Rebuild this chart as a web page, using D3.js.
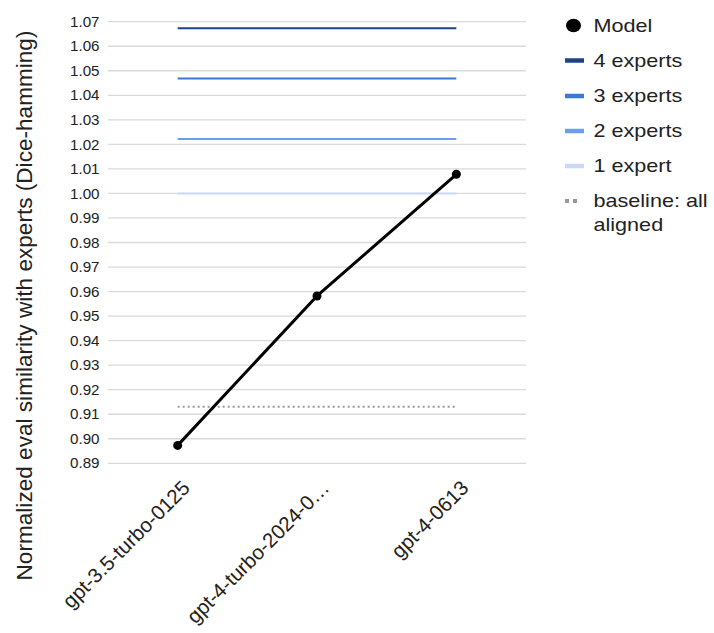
<!DOCTYPE html>
<html>
<head>
<meta charset="utf-8">
<script src="https://cdn.jsdelivr.net/npm/d3@7"></script>
<style>
  html, body { margin: 0; padding: 0; background: #fff; }
  svg { display: block; font-family: Arial, "Liberation Sans", sans-serif; }
</style>
</head>
<body>
<svg id="chart" width="714" height="633"></svg>
<script>
const categories = ["gpt-3.5-turbo-0125", "gpt-4-turbo-2024-0…", "gpt-4-0613"];
const modelValues = [0.8973, 0.9582, 1.0078];
const experts4 = [1.0673, 1.0673, 1.0673];
const experts3 = [1.0468, 1.0468, 1.0468];
const experts2 = [1.0222, 1.0222, 1.0222];
const experts1 = [1.0000, 1.0000, 1.0000];
const baseline = [0.9131, 0.9131, 0.9131];
const yTicks = [0.89, 0.90, 0.91, 0.92, 0.93, 0.94, 0.95, 0.96, 0.97, 0.98, 0.99, 1.00, 1.01, 1.02, 1.03, 1.04, 1.05, 1.06, 1.07];
const legendLabels = ["Model", "4 experts", "3 experts", "2 experts", "1 expert", ["baseline: all", "aligned"]];
const yTitle = "Normalized eval similarity with experts (Dice-hamming)";

const svg = d3.select("#chart");
const plotLeft = 108, plotRight = 526, plotTop = 21.7, plotBottom = 463.3;
const SX = 1.2; // horizontal glyph stretch seen in the reference legend
const textColor = "#222";
const fontFam = "Arial, 'Liberation Sans', sans-serif";

const x = d3.scalePoint().domain(categories).range([plotLeft, plotRight]).padding(0.5);
const y = d3.scaleLinear().domain([0.89, 1.07]).range([plotBottom, plotTop]);

// gridlines
svg.append("g")
  .selectAll("line").data(yTicks).join("line")
  .attr("x1", plotLeft).attr("x2", plotRight)
  .attr("y1", d => y(d)).attr("y2", d => y(d))
  .attr("stroke", "#dadada").attr("stroke-width", 1.3);

// y axis labels
const yAxis = d3.axisLeft(y).tickValues(yTicks).tickFormat(d3.format(".2f")).tickSize(0).tickPadding(0);
const yg = svg.append("g").attr("transform", `translate(${plotLeft - 8.5},0)`).call(yAxis);
yg.select(".domain").remove();
yg.selectAll("text")
  .attr("x", 0)
  .attr("font-size", 14.6).attr("fill", textColor).attr("font-family", fontFam)
  .attr("transform", `scale(1.04,1)`);

// x axis labels
const xAxis = d3.axisBottom(x).tickSize(0).tickPadding(0);
const xg = svg.append("g").attr("transform", `translate(0,${plotBottom})`).call(xAxis);
xg.select(".domain").remove();
xg.selectAll("text")
  .attr("x", 0).attr("y", 0).attr("dy", 0)
  .attr("font-size", 20.5).attr("fill", textColor)
  .attr("font-family", fontFam)
  .attr("text-anchor", "end")
  .attr("transform", `translate(13,26) rotate(-45)`);

// y title
svg.append("text")
  .attr("transform", `translate(24.5,305.5) rotate(-90)`)
  .attr("text-anchor", "middle")
  .attr("dy", "0.35em")
  .attr("font-size", 22.6).attr("fill", textColor)
  .text(yTitle);

const series = [
  { values: baseline, color: "#999999", width: 2, dash: "2,3" },
  { values: experts1, color: "#c9daf8", width: 2 },
  { values: experts2, color: "#6d9eeb", width: 2 },
  { values: experts3, color: "#3c78d8", width: 2 },
  { values: experts4, color: "#1c4587", width: 2 },
];
const line = d3.line().x((d, i) => x(categories[i])).y(d => y(d));
series.forEach(s => {
  svg.append("path").datum(s.values)
    .attr("d", line).attr("fill", "none")
    .attr("stroke", s.color).attr("stroke-width", s.width)
    .attr("stroke-dasharray", s.dash || null);
});

svg.append("path").datum(modelValues)
  .attr("d", line).attr("fill", "none")
  .attr("stroke", "#000").attr("stroke-width", 3).attr("stroke-linejoin", "round");
svg.append("g").selectAll("circle").data(modelValues).join("circle")
  .attr("cx", (d, i) => x(categories[i])).attr("cy", d => y(d)).attr("r", 4.5).attr("fill", "#000");

// legend
const legendY = [25.5, 60.5, 96, 131, 166, 201];
const legendColors = ["#000", "#1c4587", "#3c78d8", "#6d9eeb", "#c9daf8", "#999999"];
const lg = svg.append("g");
legendLabels.forEach((lab, i) => {
  const yy = legendY[i];
  if (i === 0) {
    lg.append("ellipse").attr("cx", 573.5).attr("cy", yy).attr("rx", 7.5).attr("ry", 6.8).attr("fill", "#000");
  } else if (i === 5) {
    lg.append("line").attr("x1", 565).attr("x2", 578).attr("y1", yy).attr("y2", yy)
      .attr("stroke", legendColors[i]).attr("stroke-width", 4).attr("stroke-dasharray", "4,4");
  } else {
    lg.append("line").attr("x1", 565).attr("x2", 584).attr("y1", yy).attr("y2", yy)
      .attr("stroke", legendColors[i]).attr("stroke-width", 4.5);
  }
  const t = lg.append("text")
    .attr("transform", `translate(593.5,${yy}) scale(${SX},1)`)
    .attr("font-size", 18).attr("fill", textColor);
  if (Array.isArray(lab)) {
    lab.forEach((l, j) => t.append("tspan").attr("x", 0).attr("dy", j === 0 ? "0.36em" : "1.28em").text(l));
  } else {
    t.attr("dy", "0.36em").text(lab);
  }
});
</script>
</body>
</html>
